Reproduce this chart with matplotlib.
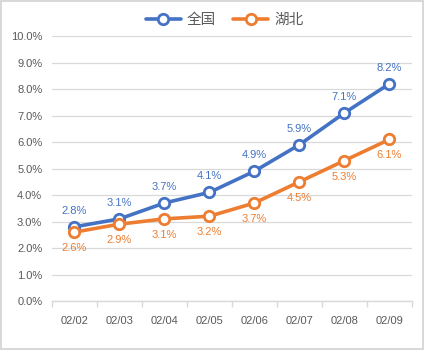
import matplotlib
matplotlib.use("Agg")
import matplotlib.pyplot as plt
from matplotlib.ticker import FuncFormatter, MultipleLocator

dates = ["02/02", "02/03", "02/04", "02/05", "02/06", "02/07", "02/08", "02/09"]
national = [2.8, 3.1, 3.7, 4.1, 4.9, 5.9, 7.1, 8.2]
hubei = [2.6, 2.9, 3.1, 3.2, 3.7, 4.5, 5.3, 6.1]
series_names = ["全国", "湖北"]

plt.rcParams["font.family"] = ["Liberation Sans", "Noto Sans CJK SC", "DejaVu Sans"]

blue = "#4472C4"
orange = "#ED7D31"
grid_c = "#D9D9D9"
text_c = "#595959"

fig = plt.figure(figsize=(4.24, 3.5), dpi=100)
fig.patch.set_edgecolor("#D9D9D9")
fig.patch.set_linewidth(1.5)
ax = fig.add_axes([0.1226, 0.14, 0.8491, 0.757])

x = list(range(len(dates)))
for vals, col, name, off, va in [
    (national, blue, series_names[0], 8, "bottom"),
    (hubei, orange, series_names[1], -8, "top"),
]:
    ax.plot(x, vals, color=col, lw=2.6, marker="o", ms=7.5, mfc="white",
            mec=col, mew=2.0, label=name, solid_capstyle="round")
    for xi, v in zip(x, vals):
        ax.annotate(f"{v:.1f}%", (xi, v), xytext=(0, off), textcoords="offset points",
                    ha="center", va=va, fontsize=8, color=col)

ax.set_xlim(-0.5, len(dates) - 0.5)
ax.set_ylim(0, 10)
ax.yaxis.set_major_locator(MultipleLocator(1))
ax.yaxis.set_major_formatter(FuncFormatter(lambda v, p: f"{v:.1f}%"))
ax.set_xticks(x)
ax.set_xticklabels(dates)
ax.set_xticks([i - 0.5 for i in range(len(dates) + 1)], minor=True)
ax.tick_params(axis="x", which="major", length=0, pad=11, labelsize=8, labelcolor=text_c)
ax.tick_params(axis="x", which="minor", length=4, color=grid_c, width=1, direction="out")
ax.tick_params(axis="y", length=0, pad=7, labelsize=8, labelcolor=text_c)
ax.grid(axis="y", color=grid_c, lw=0.9)
ax.set_axisbelow(True)
for s in ["top", "right", "left"]:
    ax.spines[s].set_visible(False)
ax.spines["bottom"].set_color(grid_c)
ax.spines["bottom"].set_linewidth(1)

leg = fig.legend(loc="center", bbox_to_anchor=(0.53, 0.943), ncol=2, frameon=False,
                 prop={"family": ["Noto Sans CJK SC"], "size": 10.5},
                 labelcolor=text_c, handlelength=2.4, columnspacing=1.2, handletextpad=0.4)

fig.savefig("out.png", dpi=100)
